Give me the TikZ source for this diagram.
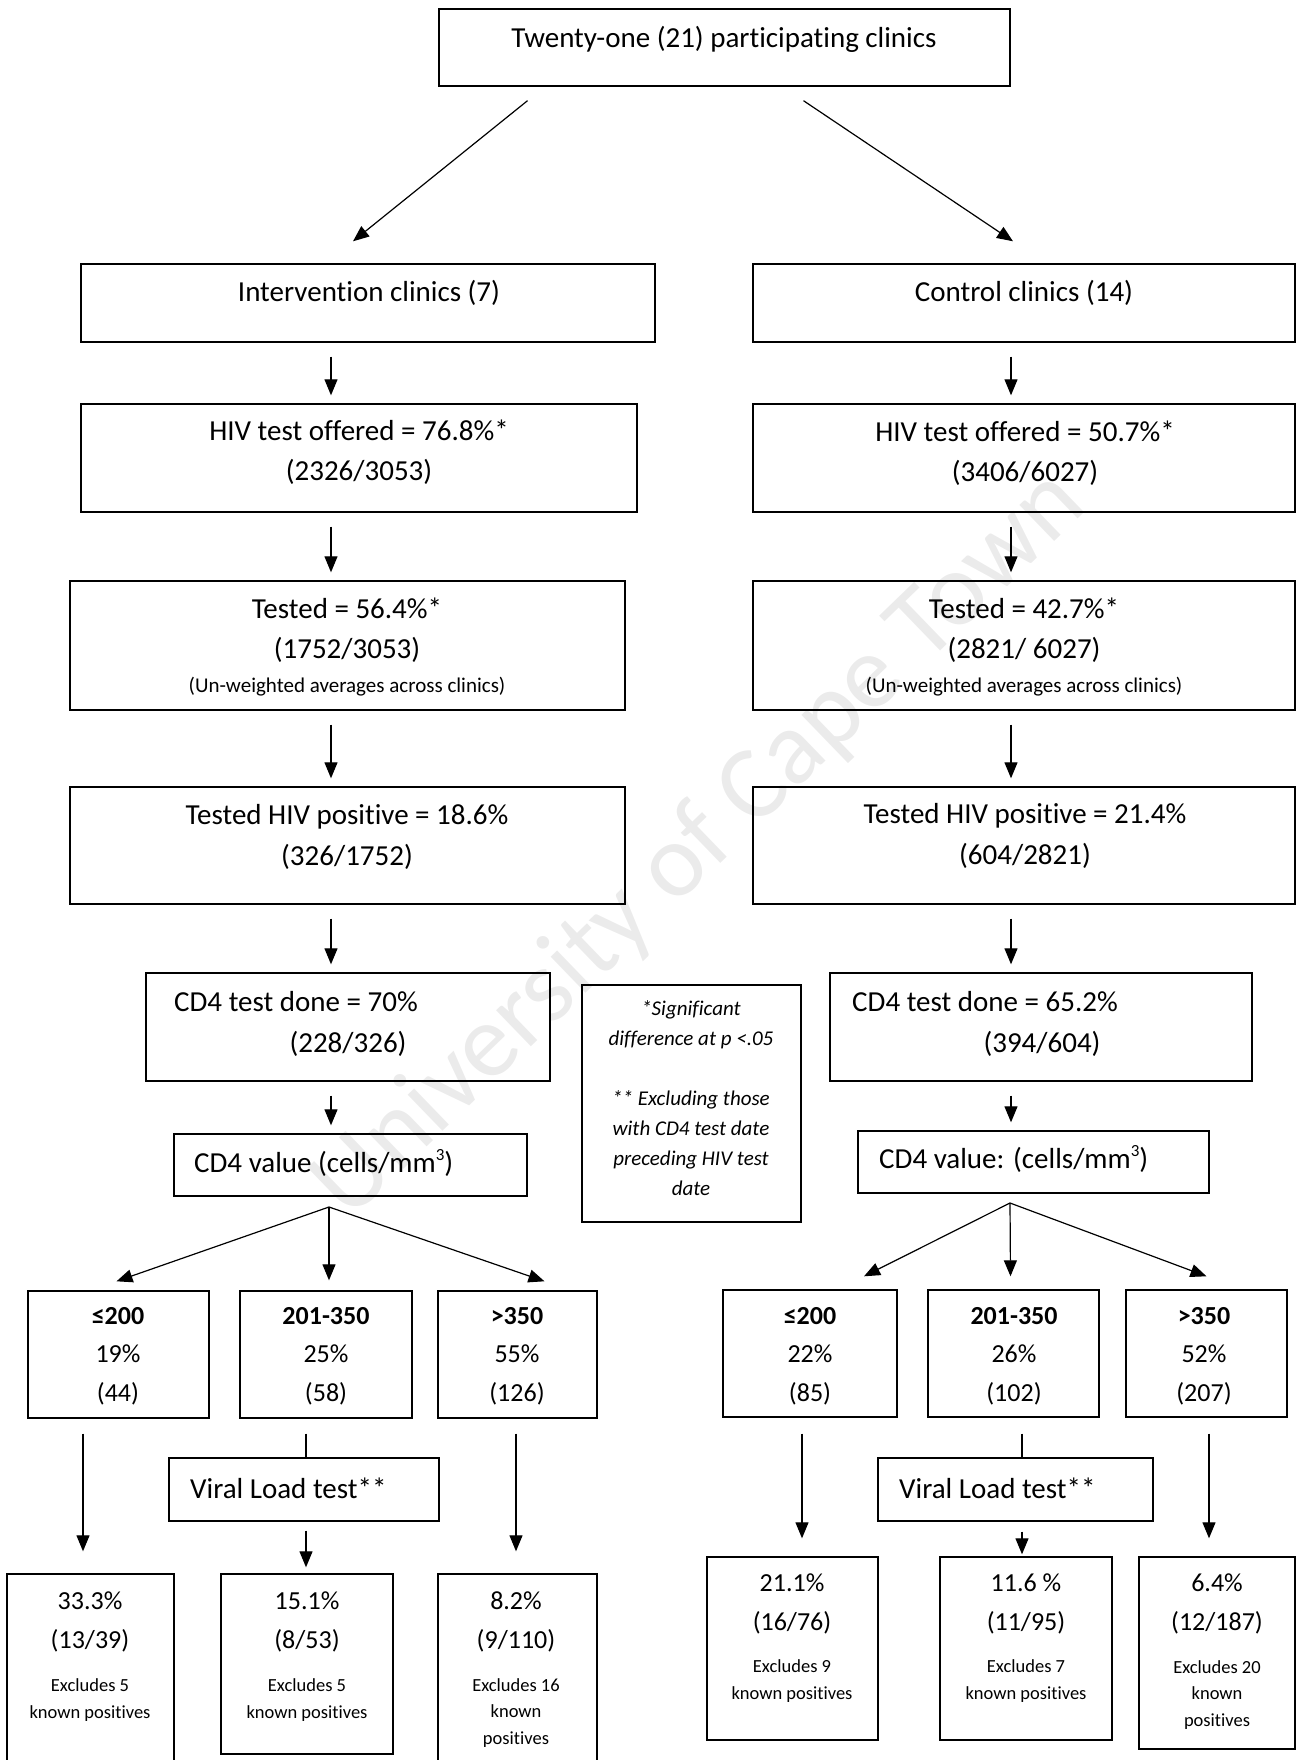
\documentclass[tikz,border=0pt]{standalone}
\usepackage{fontspec}
\setmainfont{Carlito}[Ligatures=NoCommon]
\usetikzlibrary{arrows.meta,fit,calc}
\newcommand{\cubed}{\raisebox{0.42em}{\fontsize{17}{17}\selectfont 3}}
\tikzset{
  box/.style={draw, line width=1.4pt, inner sep=0pt},
  txt/.style={font=\fontsize{29}{40.5}\selectfont, align=center, inner sep=0pt},
  bintxt/.style={font=\fontsize{26}{38.5}\selectfont, align=center, inner sep=0pt},
  smalltxt/.style={font=\fontsize{21}{30}\selectfont, align=center, inner sep=0pt},
  exctxt/.style={font=\fontsize{18.5}{26.5}\selectfont, align=center, inner sep=0pt},
  sigtxt/.style={font=\itshape\fontsize{21}{30}\selectfont, align=center, inner sep=0pt},
  wmark/.style={rotate=44, text=black!8, font=\fontsize{105}{105}\selectfont, inner sep=0pt},
  arr/.style={line width=1.2pt, -{Triangle[length=16pt,width=13pt]}},
  gap/.style={shorten <=14pt, shorten >=8pt},
}
\begin{document}
\begin{tikzpicture}[x=1pt, y=-1pt]
\useasboundingbox (0,0) rectangle (1296,1760);
\node[wmark] (wm) at (700,845) {University of Cape Town};

% boxes
\node[box, fit={(439,9) (1010,86)}] (top) {};
\node[box, fit={(81,264) (655,342)}] (int) {};
\node[box, fit={(753,264) (1295,342)}] (ctl) {};
\node[box, fit={(81,404) (637,512)}] (offL) {};
\node[box, fit={(753,404) (1295,512)}] (offR) {};
\node[box, fit={(70,581) (625,710)}] (tstL) {};
\node[box, fit={(753,581) (1295,710)}] (tstR) {};
\node[box, fit={(70,787) (625,904)}] (posL) {};
\node[box, fit={(753,787) (1295,904)}] (posR) {};
\node[box, fit={(146,973) (550,1081)}] (cdL) {};
\node[box, fit={(830,973) (1252,1081)}] (cdR) {};
\node[box, fit={(582,985) (801,1222)}] (sig) {};
\node[box, fit={(174,1134) (527,1196)}] (valL) {};
\node[box, fit={(858,1131) (1209,1193)}] (valR) {};
\node[box, fit={(28,1291) (209,1418)}] (binL1) {};
\node[box, fit={(240,1291) (412,1418)}] (binL2) {};
\node[box, fit={(438,1291) (597,1418)}] (binL3) {};
\node[box, fit={(723,1290) (897,1417)}] (binR1) {};
\node[box, fit={(928,1290) (1099,1417)}] (binR2) {};
\node[box, fit={(1126,1290) (1287,1417)}] (binR3) {};
\node[box, fit={(169,1458) (439,1521)}] (vlL) {};
\node[box, fit={(878,1458) (1153,1521)}] (vlR) {};
\node[box, fit={(7,1574) (174,1780)}] (resL1) {};
\node[box, fit={(221,1574) (393,1754)}] (resL2) {};
\node[box, fit={(438,1574) (597,1780)}] (resL3) {};
\node[box, fit={(707,1557) (878,1740)}] (resR1) {};
\node[box, fit={(940,1557) (1112,1740)}] (resR2) {};
\node[box, fit={(1139,1557) (1295,1749)}] (resR3) {};

% texts
\node[txt] (topT) at (724,39) {Twenty-one (21) participating clinics};
\node[txt] (intT) at (369,293) {Intervention clinics (7)};
\node[txt] (ctlT) at (1024,293) {Control clinics (14)};
\node[txt] (offLT) at (359,452) {HIV test offered = 76.8\%*\\(2326/3053)};
\node[txt] (offRT) at (1025,453) {HIV test offered = 50.7\%*\\(3406/6027)};
\node[txt] (tstLT) at (347,630) {Tested = 56.4\%*\\(1752/3053)};
\node[smalltxt] (tstLN) at (347,687) {(Un-weighted averages across clinics)};
\node[txt] (tstRT) at (1024,630) {Tested = 42.7\%*\\(2821/ 6027)};
\node[smalltxt] (tstRN) at (1024,687) {(Un-weighted averages across clinics)};
\node[txt] (posLT) at (347,837) {Tested HIV positive = 18.6\%\\(326/1752)};
\node[txt] (posRT) at (1025,836) {Tested HIV positive = 21.4\%\\(604/2821)};
\node[txt, anchor=west] (cdLT) at (174,1002) {CD4 test done = 70\%};
\node[txt] (cdLN) at (348,1044) {(228/326)};
\node[txt, anchor=west] (cdRT) at (852,1002) {CD4 test done = 65.2\%};
\node[txt] (cdRN) at (1042,1044) {(394/604)};
\node[sigtxt] (sigT) at (691,1098) {*Significant\\difference at p <.05\\[30pt]** Excluding those\\with CD4 test date\\preceding HIV test\\date};
\node[txt, anchor=west] (valLT) at (194,1163) {CD4 value (cells/mm\cubed)};
\node[txt, anchor=west] (valRT) at (879,1159) {CD4 value: (cells/mm\cubed)};

\node[bintxt] (binL1T) at (118,1356) {\textbf{≤200}\\19\%\\(44)};
\node[bintxt] (binL2T) at (326,1356) {\textbf{201-350}\\25\%\\(58)};
\node[bintxt] (binL3T) at (517,1356) {\textbf{>350}\\55\%\\(126)};
\node[bintxt] (binR1T) at (810,1356) {\textbf{≤200}\\22\%\\(85)};
\node[bintxt] (binR2T) at (1014,1356) {\textbf{201-350}\\26\%\\(102)};
\node[bintxt] (binR3T) at (1204,1356) {\textbf{>350}\\52\%\\(207)};
\node[txt, anchor=west] (vlLT) at (190,1488) {Viral Load test**};
\node[txt, anchor=west] (vlRT) at (899,1488) {Viral Load test**};

\node[bintxt] (resL1T) at (90,1622) {33.3\%\\(13/39)};
\node[exctxt] (resL1N) at (90,1700) {Excludes 5\\known positives};
\node[bintxt] (resL2T) at (307,1622) {15.1\%\\(8/53)};
\node[exctxt] (resL2N) at (307,1700) {Excludes 5\\known positives};
\node[bintxt] (resL3T) at (516,1622) {8.2\%\\(9/110)};
\node[exctxt] (resL3N) at (516,1713) {Excludes 16\\known\\positives};
\node[bintxt] (resR1T) at (792,1604) {21.1\%\\(16/76)};
\node[exctxt] (resR1N) at (792,1681) {Excludes 9\\known positives};
\node[bintxt] (resR2T) at (1026,1604) {11.6 \%\\(11/95)};
\node[exctxt] (resR2N) at (1026,1681) {Excludes 7\\known positives};
\node[bintxt] (resR3T) at (1217,1604) {6.4\%\\(12/187)};
\node[exctxt] (resR3N) at (1217,1695) {Excludes 20\\known\\positives};

% connectors
\draw[arr] ($(top.south)+(-197,14)$) -- ($(int.north)+(-15,-22)$);
\draw[arr] ($(top.south)+(79,14)$) -- ($(ctl.north)+(-11,-22)$);

\coordinate (colL) at (331,0);
\coordinate (colR) at (1011,0);
\foreach \a/\b in {int/offL, offL/tstL, tstL/posL, posL/cdL, cdL/valL}
  \draw[arr, gap] (\a.south -| colL) -- (\b.north -| colL);
\foreach \a/\b in {ctl/offR, offR/tstR, tstR/posR, posR/cdR, cdR/valR}
  \draw[arr, gap] (\a.south -| colR) -- (\b.north -| colR);

\coordinate (fanL) at (329,1207);
\coordinate (fanR) at (1010,1203);
\draw[arr] (fanL) -- ([xshift=-2pt,yshift=9pt]binL1.north);
\draw[arr] (fanL) -- ([xshift=3pt,yshift=10pt]binL2.north);
\draw[arr] (fanL) -- ([xshift=27pt,yshift=9pt]binL3.north);
\draw[arr] (fanR) -- ([xshift=54pt,yshift=13pt]binR1.north);
\draw[arr] (fanR) -- ([xshift=-3pt,yshift=13pt]binR2.north);
\draw[arr] (fanR) -- ([yshift=13pt]binR3.north);

\coordinate (c1) at (83,0);
\coordinate (c2) at (306,0);
\coordinate (c3) at (516,0);
\coordinate (c4) at (802,0);
\coordinate (c5) at (1022,0);
\coordinate (c6) at (1209,0);
\draw[arr, shorten <=15pt, shorten >=22pt] (binL1.south -| c1) -- (resL1.north -| c1);
\draw[line width=1.2pt, shorten <=15pt] (binL2.south -| c2) -- (vlL.north -| c2);
\draw[arr, shorten <=9pt, shorten >=6pt] (vlL.south -| c2) -- (resL2.north -| c2);
\draw[arr, shorten <=15pt, shorten >=22pt] (binL3.south -| c3) -- (resL3.north -| c3);
\draw[arr, shorten <=16pt, shorten >=18pt] (binR1.south -| c4) -- (resR1.north -| c4);
\draw[line width=1.2pt, shorten <=16pt] (binR2.south -| c5) -- (vlR.north -| c5);
\draw[arr, shorten <=10pt, shorten >=2pt] (vlR.south -| c5) -- (resR2.north -| c5);
\draw[arr, shorten <=16pt, shorten >=18pt] (binR3.south -| c6) -- (resR3.north -| c6);
\end{tikzpicture}
\end{document}
